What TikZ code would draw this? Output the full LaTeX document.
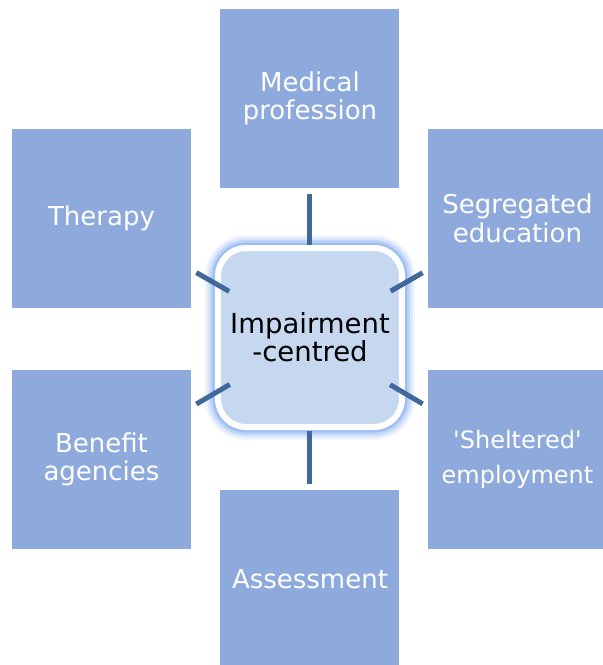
\documentclass[tikz,border=0pt]{standalone}
\usepackage{fontspec}
\setmainfont{DejaVu Sans}
\usetikzlibrary{positioning}

\definecolor{boxblue}{RGB}{142,169,219}
\definecolor{linkblue}{RGB}{65,104,155}
\definecolor{hubfill}{RGB}{198,216,240}
\definecolor{glowblue}{RGB}{120,165,240}

\tikzset{
  factor/.style={rectangle,fill=boxblue,minimum size=179pt,inner sep=0pt,
    text=white,align=center,font=\fontsize{26}{28.5}\selectfont},
  hub/.style={rectangle,rounded corners=28pt,fill=hubfill,draw=white,line width=6pt,
    minimum width=184pt,minimum height=179pt,align=center,
    font=\fontsize{27.5}{28}\selectfont,
    preaction={draw=glowblue,line width=26pt,opacity=.12},
    preaction={draw=glowblue,line width=21pt,opacity=.18},
    preaction={draw=glowblue,line width=16pt,opacity=.28},
    preaction={draw=glowblue,line width=11pt,opacity=.45}},
  link/.style={draw=linkblue,line width=5pt,shorten <=93pt,shorten >=6pt}
}

\begin{document}
\begin{tikzpicture}[on grid]
    \useasboundingbox (-310pt,-327.5pt) rectangle (293pt,337.5pt);

    \node[hub]    (hub)                                          {Impairment\\-centred};
    \node[factor] (medical)    [above=239pt of hub]               {Medical\\profession};
    \node[factor] (therapy)    [above left=119pt and 208.5pt of hub]  {Therapy};
    \node[factor] (segregated) [above right=119pt and 207.5pt of hub] {Segregated\\education};
    \node[factor] (benefit)    [below left=122pt and 208.5pt of hub]  {Benefit\\agencies};
    \node[factor,font=\fontsize{24}{35}\selectfont]
                  (sheltered)  [below right=122pt and 207.5pt of hub] {\textquotesingle Sheltered\textquotesingle\\employment};
    \node[factor] (assessment) [below=242pt of hub]               {Assessment};

    \foreach \f in {medical,therapy,segregated,benefit,sheltered,assessment}
        \path[link] (hub.center) -- (\f);
\end{tikzpicture}
\end{document}
